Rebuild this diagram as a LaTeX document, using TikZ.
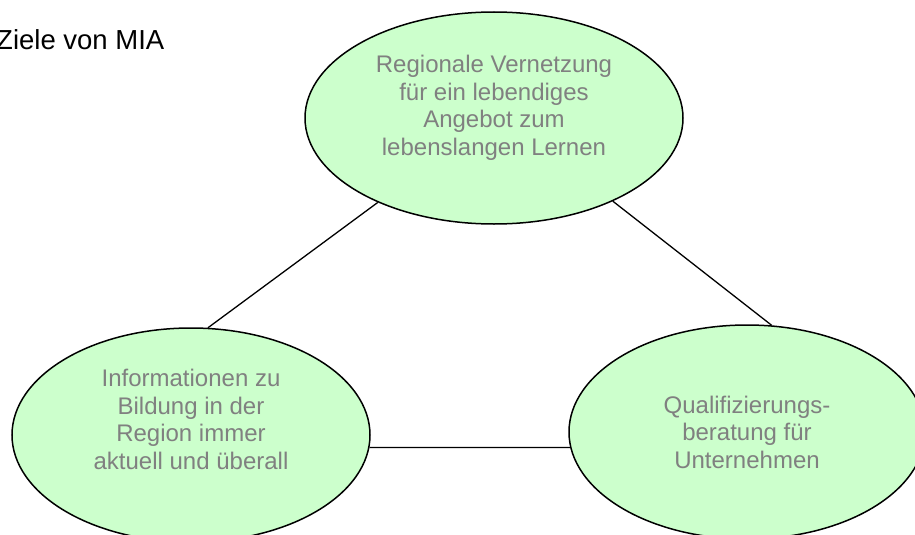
\documentclass[tikz,border=0pt]{standalone}
\usepackage{fontspec}
\setmainfont{Liberation Sans}
\usetikzlibrary{shapes.geometric}

\definecolor{zielgruen}{HTML}{CCFFCC}
\definecolor{zielgrau}{HTML}{808080}

\tikzset{
    ziel/.style={ellipse,draw=black,line width=1.5pt,fill=zielgruen,
        text=zielgrau,inner sep=0pt,align=center,
        font=\fontsize{24pt}{27.5pt}\selectfont},
    verbindung/.style={line width=1.3pt}
}

\begin{document}
\begin{tikzpicture}[x=1pt,y=-1pt]
        % Page size of the reference
        \clip (0,0) rectangle (915,535);

        % Title
        \node[anchor=base west,inner sep=0pt,font=\fontsize{27.5pt}{32pt}\selectfont] (titel) at (-4,50) {Ziele von MIA};

        % The three goals
        \node[ziel,minimum width=378pt,minimum height=212pt] (vernetzung) at (494,118)
            {Regionale Vernetzung\\f\"ur ein lebendiges\\Angebot zum\\lebenslangen Lernen\\[-2pt]\mbox{}};
        \node[ziel,minimum width=358pt,minimum height=214pt] (info) at (191,435)
            {Informationen zu\\Bildung in der\\Region immer\\aktuell und \"uberall\\[4pt]\mbox{}};
        \node[ziel,minimum width=356pt,minimum height=214pt] (beratung) at (747,432)
            {Qualifizierungs-\\beratung f\"ur\\Unternehmen};

        % Lines between the goals
        \draw[verbindung] (vernetzung.216) -- (info.81);
        \draw[verbindung] (vernetzung.325) -- (beratung.77);
        \draw[verbindung] (info.356) -- (beratung.185);
\end{tikzpicture}
\end{document}
